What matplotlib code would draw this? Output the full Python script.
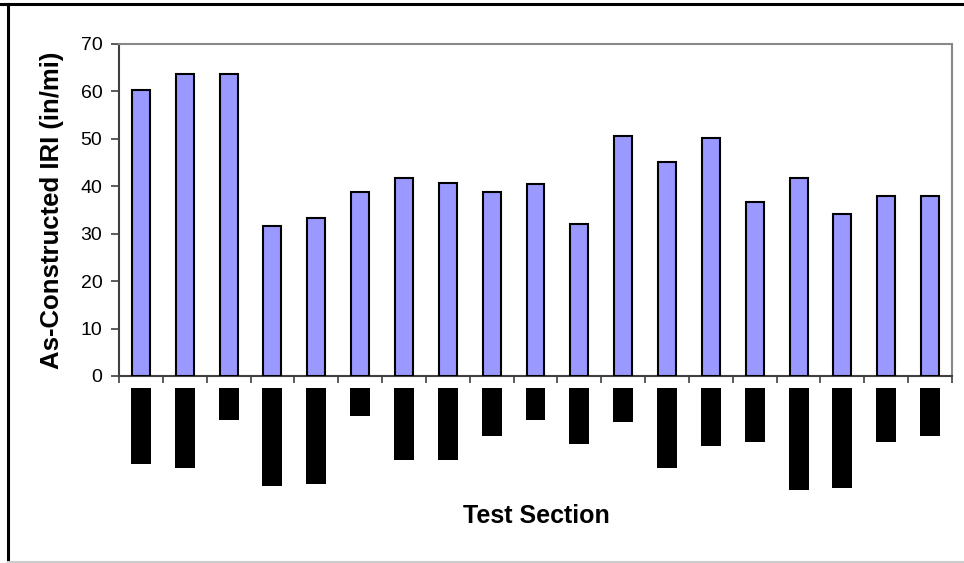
import matplotlib
matplotlib.use("Agg")
import matplotlib.pyplot as plt
import numpy as np
from matplotlib.lines import Line2D

plt.rcParams['font.family'] = ['Liberation Sans', 'DejaVu Sans']

# Data
sections = [f"S{i}" for i in range(1, 20)]
iri = [60.3, 63.7, 63.7, 31.6, 33.3, 38.8, 41.7, 40.6, 38.8, 40.4,
       32.0, 50.6, 45.1, 50.2, 36.7, 41.7, 34.2, 38.0, 38.0]
# lengths (px) of the redacted (blacked-out) category labels
label_len = [76, 80, 32, 98, 96, 28, 72, 72, 48, 32,
             56, 34, 80, 58, 54, 102, 100, 54, 48]
yticks = [0, 10, 20, 30, 40, 50, 60, 70]

W, H = 964, 563
fig = plt.figure(figsize=(W / 100, H / 100), dpi=100)

def px_rect(x0, y0, x1, y1):
    return [x0 / W, 1 - y1 / H, (x1 - x0) / W, (y1 - y0) / H]

ax = fig.add_axes(px_rect(119, 44, 952, 376))
x = np.arange(len(iri))
ax.bar(x, iri, width=0.41, color='#9999FF', edgecolor='black', linewidth=1.5, zorder=3)
ax.set_xlim(-0.5, len(iri) - 0.5)
ax.set_ylim(0, 70)
ax.set_yticks(yticks)
ax.tick_params(axis='y', labelsize=14, direction='out', length=6, width=1.2, color='#404040', pad=6)
ax.set_xticks(np.arange(-0.5, len(iri) - 0.4, 1.0))
ax.set_xticklabels([])
ax.tick_params(axis='x', direction='out', length=5, width=1.2, color='#404040')
for s in ['left', 'bottom']:
    ax.spines[s].set_color('#404040')
    ax.spines[s].set_linewidth(1.5)
for s in ['top', 'right']:
    ax.spines[s].set_color('#888888')
    ax.spines[s].set_linewidth(1.5)
ax.set_ylabel('As-Constructed IRI (in/mi)', fontsize=18.5, fontweight='bold', labelpad=12)

# redacted category labels shown as black blocks
ax2 = fig.add_axes(px_rect(119, 376, 952, 500))
ax2.bar(x, label_len, bottom=12, width=0.456, color='black', linewidth=0)
ax2.set_xlim(-0.5, len(iri) - 0.5)
ax2.set_ylim(124, 0)
ax2.axis('off')

fig.text(536 / W, 1 - 516 / H, 'Test Section', fontsize=18, fontweight='bold',
         ha='center', va='center')

# figure border
fig.add_artist(Line2D([0, 1], [1 - 4 / H, 1 - 4 / H], color='black', linewidth=2.2, transform=fig.transFigure))
fig.add_artist(Line2D([8 / W, 8 / W], [1 - 4 / H, 1 - 561 / H], color='black', linewidth=2.2, transform=fig.transFigure))
fig.add_artist(Line2D([8 / W, 1], [1 - 561.5 / H, 1 - 561.5 / H], color='#cccccc', linewidth=1.5, transform=fig.transFigure))

fig.savefig('out.png', dpi=100)
